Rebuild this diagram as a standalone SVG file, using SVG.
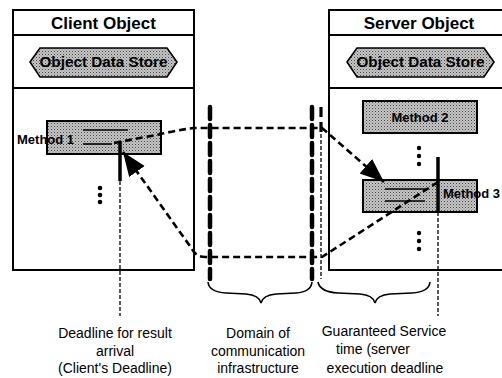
<svg xmlns="http://www.w3.org/2000/svg" width="502" height="378" viewBox="0 0 502 378">
<style>
.frame{fill:#fff;stroke:#000;stroke-width:2}
.sep{stroke:#000;stroke-width:1.8}
.hex{fill:url(#stip);stroke:#000;stroke-width:1.6}
.box{fill:url(#stip);stroke:#000;stroke-width:2}
.title{font-family:"Liberation Sans",Arial,sans-serif;font-weight:bold;font-size:17px;text-anchor:middle}
.lbl{font-family:"Liberation Sans",Arial,sans-serif;font-weight:bold;font-size:13px}
.hext{font-family:"Liberation Sans",Arial,sans-serif;font-weight:bold;font-size:14px;text-anchor:middle}
.cap{font-family:"Liberation Sans",Arial,sans-serif;font-size:14px;text-anchor:middle}
.flow{fill:none;stroke:#000;stroke-width:2.6;stroke-dasharray:7 4}
.dom{fill:none;stroke:#000;stroke-width:4.5;stroke-dasharray:12 6;stroke-linecap:round}
.thin{fill:none;stroke:#000;stroke-width:1.3;stroke-dasharray:4 2}
.solid{fill:none;stroke:#000;stroke-width:1.6}
.thick{fill:none;stroke:#000;stroke-width:3.5}
.brace{fill:none;stroke:#000;stroke-width:1.6}
</style>
<defs>
<pattern id="stip" width="3" height="3" patternUnits="userSpaceOnUse">
<rect width="3" height="3" fill="#c6c6c6"/>
<rect width="1" height="1" fill="#444"/>
<rect x="1.5" y="1.5" width="1" height="1" fill="#777"/>
</pattern>
<marker id="ah" markerUnits="userSpaceOnUse" markerWidth="26" markerHeight="22" refX="24" refY="11" orient="auto">
<path d="M0,1.5 L24,11 L0,20.5 Z" fill="#000"/>
</marker>
</defs>

<g id="client-object">
<rect class="frame" x="13" y="10" width="181" height="260"/>
<line class="sep" x1="13" y1="35" x2="194" y2="35"/>
<line class="sep" x1="13" y1="88" x2="194" y2="88"/>
<text class="title" x="103.5" y="29">Client Object</text>
</g>
<g id="client-data-store">
<polygon class="hex" points="30,62 40,48 167,48 177,62 167,77 40,77"/>
<text class="hext" x="103.5" y="67" textLength="128" lengthAdjust="spacingAndGlyphs">Object Data Store</text>
</g>
<g id="method1">
<rect class="box" x="47" y="121" width="114" height="33"/>
<text class="lbl" x="17" y="144">Method 1</text>
<line class="solid" x1="83" y1="130" x2="128" y2="130"/>
<line class="solid" x1="83" y1="144" x2="112" y2="144"/>
<line class="thick" x1="120" y1="141" x2="120" y2="181"/>
<circle cx="100" cy="188" r="2.3"/>
<circle cx="100" cy="195" r="2.3"/>
<circle cx="100" cy="202" r="2.3"/>
</g>

<g id="server-object">
<rect class="frame" x="329" y="10" width="190" height="260"/>
<line class="sep" x1="329" y1="35" x2="519" y2="35"/>
<line class="sep" x1="329" y1="88" x2="519" y2="88"/>
<text class="title" x="419" y="29">Server Object</text>
</g>
<g id="server-data-store">
<polygon class="hex" points="347,62 357,48 484,48 494,62 484,77 357,77"/>
<text class="hext" x="420.5" y="67" textLength="128" lengthAdjust="spacingAndGlyphs">Object Data Store</text>
</g>
<g id="method2">
<rect class="box" x="363" y="101" width="114" height="32"/>
<text class="lbl" x="420" y="122" text-anchor="middle">Method 2</text>
<circle cx="419" cy="148" r="2.2"/>
<circle cx="419" cy="156" r="2.2"/>
<circle cx="419" cy="164" r="2.2"/>
</g>
<g id="method3">
<rect class="box" x="363" y="180" width="114" height="32"/>
<line class="solid" x1="385" y1="189" x2="427" y2="189"/>
<line class="solid" x1="385" y1="201" x2="425" y2="201"/>
<line class="thick" x1="438" y1="157" x2="438" y2="212"/>
<text class="lbl" x="443" y="198">Method 3</text>
<circle cx="419" cy="233" r="2.2"/>
<circle cx="419" cy="241" r="2.2"/>
<circle cx="419" cy="249" r="2.2"/>
</g>

<g id="connectors">
<path class="flow" d="M114,143 Q140,138 161,134 Q178,130 194,128 L322,128 L384,182" marker-end="url(#ah)"/>
<path class="flow" d="M438,182 L322,257 L205,257 Q196,257 192,249 L123,152" marker-end="url(#ah)"/>
<line class="dom" x1="210" y1="107" x2="210" y2="279"/>
<line class="dom" x1="312" y1="107" x2="312" y2="279"/>
<line x1="321" y1="107" x2="321" y2="133" stroke="#000" stroke-width="3.2" stroke-dasharray="10 5"/>
<line class="thin" x1="321" y1="134" x2="321" y2="279"/>
<line class="thin" x1="120" y1="181" x2="120" y2="316"/>
<line class="thin" x1="438" y1="212" x2="438" y2="316"/>
<path class="brace" d="M208,282 Q209,292 226,293 L246,294 Q259,295 261,303 Q263,295 276,294 L296,293 Q311,292 312,282"/>
<path class="brace" d="M318,282 Q320,292 338,293 L360,294 Q373,295 375,303 Q377,295 390,294 L412,293 Q429,292 430,282"/>
</g>

<g id="captions">
<text class="cap" x="115" y="338">Deadline for result</text>
<text class="cap" x="115" y="356">arrival</text>
<text class="cap" x="115" y="373">(Client's Deadline)</text>
<text class="cap" x="258" y="338">Domain of</text>
<text class="cap" x="258" y="356">communication</text>
<text class="cap" x="258" y="373">infrastructure</text>
<text class="cap" x="384" y="336">Guaranteed Service</text>
<text class="cap" x="373" y="354">time (server</text>
<text class="cap" x="385" y="373">execution deadline</text>
</g>
</svg>
